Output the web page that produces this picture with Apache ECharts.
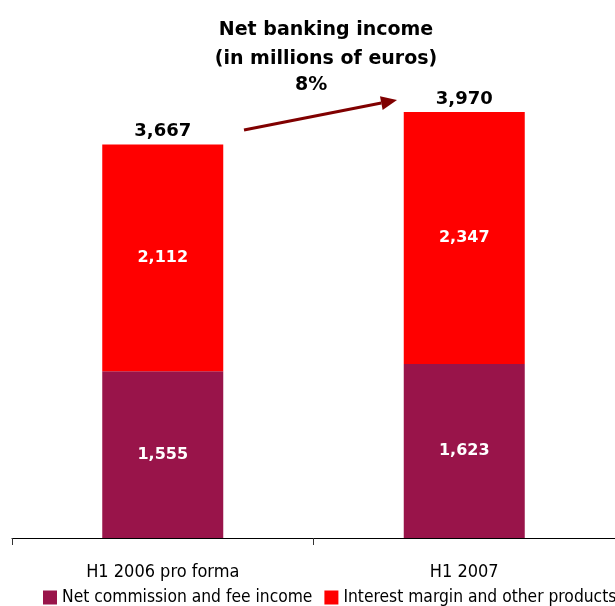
<!DOCTYPE html>
<html>
<head>
<meta charset="utf-8">
<script src="https://cdn.jsdelivr.net/npm/echarts@6/dist/echarts.min.js"></script>
<style>
  html, body { margin: 0; padding: 0; background: #fff; }
  #chart { width: 615px; height: 606px; }
</style>
</head>
<body>
<div id="chart"></div>
<script>
// Net banking income, in millions of euros
const categories = ['H1 2006 pro forma', 'H1 2007'];
const commissionIncome = [1555, 1623];
const interestMargin = [2112, 2347];
const totals = [3667, 3970];
const seriesNames = ['Net commission and fee income', 'Interest margin and other products'];
const titleLines = ['Net banking income', '(in millions of euros)'];
const growthLabel = '8%';

const fmt = v => v.toLocaleString('en-US');
const narrow = "'Liberation Sans Narrow', 'DejaVu Sans Condensed', sans-serif";
const bold = "'DejaVu Sans', Verdana, sans-serif";

// growth arrow between the two totals
const ax0 = 244, ay0 = 130, ax1 = 397, ay1 = 100;
const ang = Math.atan2(ay1 - ay0, ax1 - ax0);
const headLen = 16, headHalf = 7;
const bx = ax1 - headLen * Math.cos(ang), by = ay1 - headLen * Math.sin(ang);
const head = [
  [ax1, ay1],
  [bx + headHalf * Math.sin(ang), by - headHalf * Math.cos(ang)],
  [bx - headHalf * Math.sin(ang), by + headHalf * Math.cos(ang)]
];

const chart = echarts.init(document.getElementById('chart'), null, { renderer: 'canvas' });
chart.setOption({
  animation: false,
  backgroundColor: '#ffffff',
  title: {
    text: titleLines.join('\n'),
    left: 321,
    top: 11,
    textAlign: 'center',
    textStyle: { fontFamily: bold, fontWeight: 'bold', fontSize: 19, lineHeight: 29, color: '#000' }
  },
  grid: { left: 12, right: -3, top: 0, bottom: 68 },
  legend: {
    data: seriesNames,
    left: 43,
    top: 589,
    width: 640,
    padding: 0,
    itemWidth: 14,
    itemHeight: 14,
    itemGap: 12,
    icon: 'rect',
    textStyle: { fontFamily: narrow, fontSize: 17.3, color: '#000', padding: [0, 0, 0, 0] }
  },
  xAxis: {
    type: 'category',
    data: categories,
    axisLine: { lineStyle: { color: '#000', width: 1 } },
    axisTick: { show: true, alignWithLabel: false, length: 7, lineStyle: { color: '#333', width: 1 } },
    axisLabel: { fontFamily: narrow, fontSize: 18, color: '#000', margin: 25 }
  },
  yAxis: {
    type: 'value', min: 0, max: 5015,
    show: false, splitLine: { show: false }
  },
  series: [
    {
      name: seriesNames[0], type: 'bar', stack: 'nbi', barWidth: 121,
      data: commissionIncome,
      itemStyle: { color: '#99144A' },
      label: { show: true, position: 'inside', formatter: p => fmt(p.value),
        color: '#fff', fontFamily: bold, fontWeight: 'bold', fontSize: 16 }
    },
    {
      name: seriesNames[1], type: 'bar', stack: 'nbi', barWidth: 121,
      data: interestMargin,
      itemStyle: { color: '#FF0000' },
      label: { show: true, position: 'inside', formatter: p => fmt(p.value),
        color: '#fff', fontFamily: bold, fontWeight: 'bold', fontSize: 16 }
    },
    {
      // totals written above each stacked bar
      name: 'Total', type: 'scatter', data: totals,
      symbol: 'circle', symbolSize: 2, silent: true,
      itemStyle: { color: 'rgba(0,0,0,0)', opacity: 1 },
      label: { show: true, position: 'top', distance: 3, formatter: p => fmt(p.value),
        color: '#000', opacity: 1, fontFamily: bold, fontWeight: 'bold', fontSize: 18 }
    }
  ],
  graphic: [
    { type: 'text', left: 295, top: 76,
      style: { text: growthLabel, fontFamily: bold, fontWeight: 'bold', fontSize: 19, fill: '#000' } },
    { type: 'line', shape: { x1: ax0, y1: ay0, x2: bx, y2: by },
      style: { stroke: '#800000', lineWidth: 3 } },
    { type: 'polygon', shape: { points: head }, style: { fill: '#800000' } }
  ]
});
</script>
</body>
</html>
